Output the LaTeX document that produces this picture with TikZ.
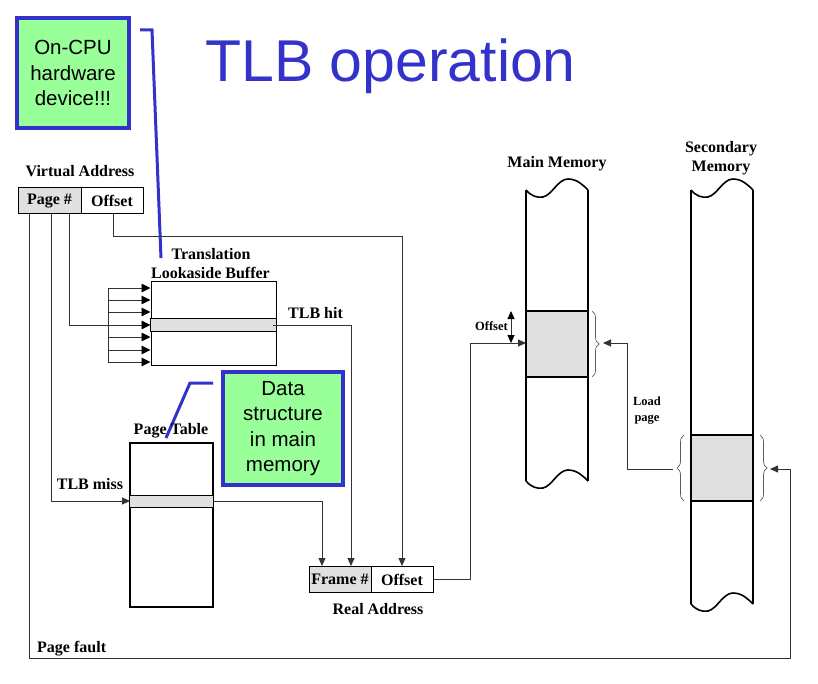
\documentclass[tikz,border=0pt]{standalone}
\usepackage{fontspec}
\setmainfont{Liberation Serif}
\newfontfamily\calloutfont{Liberation Sans}
\usetikzlibrary{arrows.meta,decorations.pathreplacing}

\definecolor{callblue}{HTML}{3333CC}
\definecolor{callgreen}{HTML}{99FF99}
\definecolor{cellgray}{HTML}{E0E0E0}
\definecolor{wirecol}{HTML}{333333}

\begin{document}
\begin{tikzpicture}[x=1pt,y=-1pt,
  lbl/.style={font=\fontsize{16}{18}\selectfont\bfseries, inner sep=0pt, anchor=base},
  smalllbl/.style={font=\fontsize{12.5}{16}\selectfont\bfseries, inner sep=0pt, align=center},
  cell/.style={draw=black, line width=1pt, minimum width=62pt, minimum height=26pt,
    inner sep=0pt, font=\fontsize{16}{18}\selectfont\bfseries},
  graycell/.style={cell, fill=cellgray},
  wire/.style={draw=wirecol, line width=0.9pt},
  arr/.style={wire, -{Triangle[length=8pt,width=7pt]}},
  callout/.style={draw=callblue, line width=3.5pt, fill=callgreen, align=center, inner sep=0pt,
    font=\calloutfont\fontsize{20.5}{25.5}\selectfont},
  leader/.style={draw=callblue, line width=3pt},
  column/.style={draw=black, line width=1.6pt},
  pagefill/.style={draw=black, line width=1.6pt, fill=cellgray},
  rowfill/.style={draw=black, line width=1pt, fill=cellgray},
  brc/.style={draw=wirecol!80, line width=0.7pt, decorate, decoration={brace, amplitude=7pt}},
  memedge/.pic={\draw[column] (0,0) .. controls (5,6) and (11,8) .. (17,7)
      .. controls (26,5) and (32,-11) .. (42,-11) .. controls (51,-11) and (57,-5) .. (62,0);}
]
\useasboundingbox (0,0) rectangle (818,684);

% title
\node[anchor=base west, inner sep=0pt, text=callblue, font=\calloutfont\fontsize{59}{64}\selectfont]
  (title) at (205,82) {TLB operation};

% callouts
\node[callout, minimum width=112pt, minimum height=110pt] (cpunote) at (73,73)
  {On-CPU\\hardware\\device!!!};
\node[callout, minimum width=120pt, minimum height=113pt] (datanote) at (283,428.5)
  {Data\\structure\\in main\\memory};
\coordinate (cpuL0) at (140,30);
\coordinate (cpuL1) at (152,30);
\coordinate (cpuL2) at (161,258);
\draw[leader] (cpuL0) -- (cpuL1) -- (cpuL2);
\coordinate (dataL0) at (213,383);
\coordinate (dataL1) at (190,383);
\coordinate (dataL2) at (166,438);
\draw[leader] (dataL0) -- (dataL1) -- (dataL2);

% virtual address
\node[lbl] (valabel) at (80,177) {Virtual Address};
\node[graycell, minimum width=63pt] (vpage) at (49.5,201) {Page \#};
\node[cell] (voff) at (112,201) {Offset};

% translation lookaside buffer
\node[lbl] (tlblabel1) at (211,260) {Translation};
\node[lbl] (tlblabel2) at (210.5,279) {Lookaside Buffer};
\node[draw=black, line width=1pt, minimum width=125pt, minimum height=83pt, inner sep=0pt]
  (tlb) at (213.5,323.5) {};
\draw[rowfill] (tlb.west |- 0,318) rectangle (tlb.east |- 0,331);

% page table
\node[lbl] (ptlabel) at (171,434) {Page Table};
\node[draw=black, line width=1.4pt, minimum width=83pt, minimum height=164pt, inner sep=0pt]
  (pt) at (171.5,525) {};
\draw[rowfill] (pt.west |- 0,495) rectangle (pt.east |- 0,507);

% real address
\node[graycell] (frame) at (340,579.5) {Frame \#};
\node[cell] (roff) at (402,579.5) {Offset};
\node[lbl] (ralabel) at (378,614) {Real Address};

% main memory column
\node[lbl] (mmlabel) at (557,168) {Main Memory};
\draw[pagefill] (526,311) rectangle (588,377);
\draw[column] (526,190) -- (526,481);
\draw[column] (588,190) -- (588,481);
\pic at (526,190) {memedge};
\pic at (526,481) {memedge};

% secondary memory column
\node[lbl] (smlabel1) at (721,153) {Secondary};
\node[lbl] (smlabel2) at (721,172) {Memory};
\draw[pagefill] (691,435) rectangle (753,501);
\draw[column] (691,190) -- (691,604);
\draw[column] (753,190) -- (753,604);
\pic at (691,190) {memedge};
\pic at (691,604) {memedge};

% braces around pages
\draw[brc] (592,311) -- (592,377);
\draw[brc] (684,501) -- (684,435);
\draw[brc] (760,435) -- (760,501);

% offset within the page frame
\node[smalllbl, anchor=base east] (offlabel) at (508,330) {Offset};
\coordinate (offTopM) at (511,311);
\coordinate (offBotM) at (511,343);
\draw[wire, {Triangle[length=8pt,width=7pt,color=black]}-{Triangle[length=8pt,width=7pt,color=black]}] (offTopM) -- (offBotM);

\node[smalllbl] (loadlabel) at (647,411) {Load\\page};

% connector end points
\coordinate (faultTop) at (29,214);
\coordinate (missTop)  at (51,214);
\coordinate (tlbTop)   at (69,214);
\coordinate (offTop)   at (113,214);
\coordinate (faultCorner) at (790,658);
\coordinate (faultUp)  at (790,469);
\coordinate (secIn)    at (770,469);
\coordinate (ptIn)     at (130,501);
\coordinate (ptOut)    at (213,501);
\coordinate (busTop)   at (108,288);
\coordinate (busBot)   at (108,362);
\coordinate (busMid)   at (108,325);
\coordinate (offBend)  at (402,236);
\coordinate (hitOut)   at (273,325);
\coordinate (frameIn1) at (322,566);
\coordinate (frameIn2) at (351,566);
\coordinate (rBend)    at (470,343);
\coordinate (mainIn)   at (526,343);
\coordinate (secOut)   at (673,469);
\coordinate (loadBend) at (627,343);
\coordinate (mainBrace) at (603,343);

% page fault path
\draw[arr] (faultTop) |- (faultCorner) -- (faultUp) -- (secIn);
\node[lbl, anchor=base west] (faultlabel) at (37,652) {Page fault};

% TLB miss path
\draw[arr] (missTop) |- (ptIn);
\node[lbl] (misslabel) at (90,489) {TLB miss};

% page number into the TLB (associative lookup on every entry)
\draw[wire] (tlbTop) |- (busMid);
\draw[wire] (busTop) -- (busBot);
\foreach \yy/\nm in {288/a,300/b,312/c,325/d,337/e,350/f,362/g}{
  \coordinate (busIn\nm) at (108,\yy);
  \coordinate (tlbIn\nm) at (tlb.west |- 0,\yy);
  \draw[wire, -{Triangle[length=9pt,width=8.5pt,color=black]}] (busIn\nm) -- (tlbIn\nm);
}

% TLB hit path
\draw[arr] (hitOut) -| (frameIn2);
\node[lbl] (hitlabel) at (315.5,318) {TLB hit};

% page table lookup result
\draw[arr] (ptOut) -| (frameIn1);

% offset copied straight through
\draw[arr] (offTop) |- (offBend) -- (roff.north);

% real address into main memory
\draw[arr] (roff.east) -| (rBend) -- (mainIn);

% load page from secondary into main memory
\draw[arr] (secOut) -| (loadBend) -- (mainBrace);

\end{tikzpicture}
\end{document}
